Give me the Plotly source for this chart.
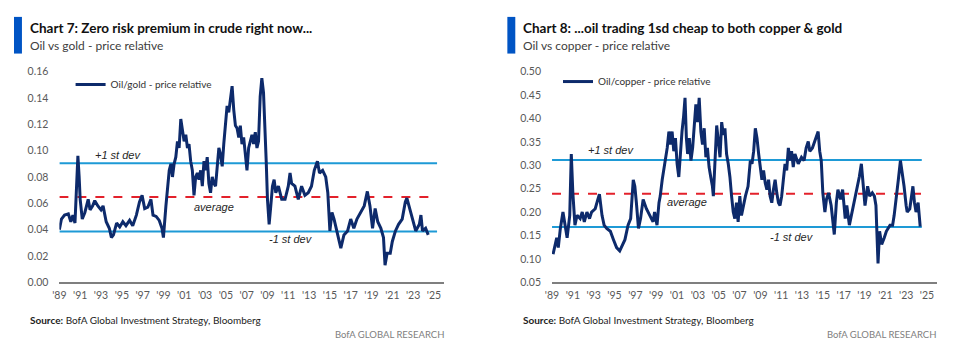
import plotly.graph_objects as go

# page body has an 8px margin: size the figure so the page is exactly 968x359
OFF = 8
W, H = 968 - 2 * OFF, 359 - 2 * OFF


def fx(px):
    return (px - OFF) / W


def fy(py):
    return 1 - (py - OFF) / H


# ---------------- data ----------------
gold_years = [1989.0, 1989.2, 1989.5, 1989.86, 1990.1, 1990.3, 1990.5, 1990.65, 1990.78, 1990.9,
              1991.0, 1991.2, 1991.45, 1991.77, 1991.95, 1992.2, 1992.4, 1992.7, 1993.0, 1993.2,
              1993.5, 1993.8, 1994.0, 1994.2, 1994.5, 1994.8, 1995.1, 1995.4, 1995.75, 1996.05,
              1996.4, 1996.7, 1996.95, 1997.2, 1997.5, 1997.8, 1998.0, 1998.3, 1998.6, 1998.86,
              1999.0, 1999.24, 1999.56, 1999.72, 1999.87, 2000.03, 2000.19, 2000.35, 2000.51, 2000.67,
              2000.83, 2000.99, 2001.15, 2001.31, 2001.46, 2001.62, 2001.78, 2001.94, 2002.10, 2002.26,
              2002.42, 2002.58, 2002.74, 2002.90, 2003.05, 2003.21, 2003.37, 2003.53, 2003.69, 2003.85,
              2004.01, 2004.17, 2004.33, 2004.49, 2004.65, 2004.80, 2004.96, 2005.12, 2005.28, 2005.44,
              2005.60, 2005.76, 2005.92, 2006.08, 2006.24, 2006.39, 2006.55, 2006.71, 2006.87, 2007.03,
              2007.19, 2007.35, 2007.51, 2007.67, 2007.83, 2007.99, 2008.14, 2008.30, 2008.46, 2008.62,
              2008.78, 2008.88, 2009.0, 2009.16, 2009.32, 2009.48, 2009.64, 2009.80, 2010.05, 2010.37,
              2010.69, 2011.0, 2011.17, 2011.32, 2011.64, 2011.96, 2012.28, 2012.6, 2012.92, 2013.23,
              2013.5, 2013.8, 2014.0, 2014.3, 2014.6, 2014.8, 2015.0, 2015.2, 2015.4, 2015.6,
              2015.9, 2016.05, 2016.35, 2016.7, 2017.0, 2017.3, 2017.6, 2017.95, 2018.3, 2018.6,
              2018.85, 2019.1, 2019.35, 2019.6, 2019.9, 2020.15, 2020.3, 2020.5, 2020.8, 2021.0,
              2021.3, 2021.6, 2021.95, 2022.25, 2022.4, 2022.6, 2022.95, 2023.25, 2023.6, 2023.75,
              2023.9, 2024.2, 2024.45]
gold_ratio = [0.040, 0.048, 0.051, 0.052, 0.046, 0.051, 0.045, 0.073, 0.096, 0.080,
              0.063, 0.048, 0.053, 0.063, 0.055, 0.058, 0.062, 0.058, 0.055, 0.058,
              0.046, 0.041, 0.034, 0.036, 0.045, 0.042, 0.046, 0.043, 0.047, 0.043,
              0.051, 0.061, 0.066, 0.056, 0.057, 0.063, 0.051, 0.050, 0.047, 0.041,
              0.034, 0.058, 0.085, 0.090, 0.080, 0.090, 0.095, 0.107, 0.102, 0.124,
              0.117, 0.107, 0.112, 0.102, 0.105, 0.092, 0.085, 0.066, 0.080, 0.083,
              0.078, 0.085, 0.073, 0.092, 0.085, 0.095, 0.075, 0.068, 0.080, 0.075,
              0.073, 0.085, 0.102, 0.097, 0.088, 0.105, 0.119, 0.134, 0.129, 0.139,
              0.149, 0.131, 0.119, 0.117, 0.110, 0.119, 0.105, 0.110, 0.097, 0.085,
              0.102, 0.107, 0.112, 0.105, 0.114, 0.102, 0.107, 0.141, 0.155, 0.144,
              0.117, 0.092, 0.063, 0.044, 0.058, 0.073, 0.078, 0.068, 0.073, 0.063,
              0.063, 0.073, 0.083, 0.075, 0.073, 0.063, 0.073, 0.066, 0.068, 0.073,
              0.085, 0.092, 0.083, 0.085, 0.080, 0.068, 0.039, 0.053, 0.048, 0.041,
              0.031, 0.026, 0.036, 0.039, 0.048, 0.041, 0.048, 0.053, 0.058, 0.069,
              0.058, 0.041, 0.056, 0.046, 0.041, 0.034, 0.013, 0.022, 0.022, 0.031,
              0.039, 0.044, 0.048, 0.061, 0.064, 0.058, 0.048, 0.039, 0.044, 0.051,
              0.039, 0.041, 0.036]
gold_bands = {"plus": 0.0904, "avg": 0.0647, "minus": 0.0386}
gold_band_span = [1989.0, 2025.3]

copper_years = [1989.1, 1989.3, 1989.45, 1989.6, 1989.8, 1990.05, 1990.25, 1990.45, 1990.7, 1990.85,
                1991.0, 1991.2, 1991.4, 1991.7, 1991.9, 1992.1, 1992.35, 1992.6, 1992.8, 1993.15,
                1993.4, 1993.55, 1993.8, 1994.0, 1994.25, 1994.6, 1994.9, 1995.2, 1995.5, 1995.75,
                1996.0, 1996.3, 1996.55, 1996.8, 1996.95, 1997.1, 1997.3, 1997.5, 1997.75, 1998.06,
                1998.38, 1998.70, 1998.85, 1999.08, 1999.27, 1999.39, 1999.58, 1999.74, 1999.90, 2000.06,
                2000.22, 2000.37, 2000.53, 2000.69, 2000.85, 2001.01, 2001.17, 2001.33, 2001.48, 2001.64,
                2001.77, 2001.90, 2002.02, 2002.18, 2002.34, 2002.50, 2002.66, 2002.81, 2002.97, 2003.13,
                2003.29, 2003.45, 2003.61, 2003.77, 2003.92, 2004.08, 2004.24, 2004.40, 2004.49, 2004.65,
                2004.81, 2004.97, 2005.13, 2005.29, 2005.45, 2005.60, 2005.76, 2005.92, 2006.08, 2006.24,
                2006.40, 2006.55, 2006.71, 2006.87, 2007.03, 2007.19, 2007.35, 2007.57, 2007.82, 2008.04,
                2008.20, 2008.36, 2008.52, 2008.68, 2008.84, 2008.99, 2009.15, 2009.31, 2009.47, 2009.63,
                2009.79, 2009.94, 2010.10, 2010.26, 2010.42, 2010.58, 2010.74, 2010.89, 2011.05, 2011.21,
                2011.37, 2011.53, 2011.69, 2011.85, 2012.00, 2012.16, 2012.32, 2012.64, 2012.95, 2013.2,
                2013.4, 2013.6, 2013.75, 2014.0, 2014.15, 2014.4, 2014.55, 2014.7, 2014.85, 2015.0,
                2015.2, 2015.35, 2015.55, 2015.8, 2016.1, 2016.3, 2016.45, 2016.7, 2016.9, 2017.15,
                2017.3, 2017.55, 2017.75, 2018.0, 2018.25, 2018.5, 2018.7, 2018.9, 2019.05, 2019.3,
                2019.5, 2019.75, 2019.95, 2020.1, 2020.2, 2020.3, 2020.45, 2020.65, 2020.9, 2021.1,
                2021.45, 2021.7, 2021.85, 2022.05, 2022.25, 2022.45, 2022.65, 2022.8, 2023.0, 2023.1,
                2023.35, 2023.5, 2023.65, 2023.8, 2023.95, 2024.15, 2024.25, 2024.35]
copper_ratio = [0.110, 0.131, 0.145, 0.124, 0.165, 0.200, 0.172, 0.145, 0.193, 0.324,
                0.241, 0.172, 0.193, 0.186, 0.200, 0.179, 0.200, 0.186, 0.200, 0.207,
                0.227, 0.238, 0.193, 0.172, 0.165, 0.159, 0.141, 0.124, 0.117, 0.131,
                0.141, 0.172, 0.186, 0.269, 0.255, 0.220, 0.165, 0.186, 0.227, 0.207,
                0.193, 0.179, 0.200, 0.172, 0.220, 0.234, 0.269, 0.289, 0.317, 0.337,
                0.372, 0.344, 0.372, 0.330, 0.358, 0.303, 0.275, 0.337, 0.372, 0.406,
                0.444, 0.358, 0.324, 0.358, 0.310, 0.337, 0.379, 0.430, 0.392, 0.444,
                0.372, 0.344, 0.379, 0.317, 0.337, 0.296, 0.275, 0.255, 0.234, 0.310,
                0.385, 0.351, 0.317, 0.392, 0.365, 0.379, 0.324, 0.303, 0.275, 0.234,
                0.200, 0.186, 0.220, 0.179, 0.234, 0.193, 0.214, 0.234, 0.255, 0.310,
                0.303, 0.330, 0.379, 0.358, 0.324, 0.296, 0.269, 0.289, 0.262, 0.248,
                0.269, 0.234, 0.220, 0.248, 0.269, 0.241, 0.220, 0.214, 0.234, 0.269,
                0.303, 0.289, 0.337, 0.310, 0.330, 0.296, 0.324, 0.303, 0.317, 0.310,
                0.337, 0.351, 0.330, 0.337, 0.348, 0.365, 0.372, 0.330, 0.310, 0.241,
                0.200, 0.227, 0.241, 0.214, 0.152, 0.220, 0.248, 0.227, 0.248, 0.186,
                0.214, 0.172, 0.193, 0.220, 0.248, 0.275, 0.303, 0.241, 0.214, 0.255,
                0.234, 0.241, 0.234, 0.214, 0.159, 0.090, 0.159, 0.131, 0.145, 0.159,
                0.172, 0.172, 0.193, 0.227, 0.269, 0.310, 0.282, 0.255, 0.214, 0.200,
                0.207, 0.227, 0.255, 0.220, 0.200, 0.220, 0.193, 0.169]
copper_bands = {"plus": 0.311, "avg": 0.239, "minus": 0.168}
copper_band_span = [1989.0, 2024.5]

tick_years = list(range(1989, 2026, 2))
tick_labels = ["'" + str(y)[2:] for y in tick_years]

gold_yticks = [0.00, 0.02, 0.04, 0.06, 0.08, 0.10, 0.12, 0.14, 0.16]
copper_yticks = [0.05, 0.10, 0.15, 0.20, 0.25, 0.30, 0.35, 0.40, 0.45, 0.50]

# ---------------- style ----------------
NAVY = "#0d2a6b"
LBLUE = "#1e9ad6"
RED = "#e3212b"
GREY = "#595959"
TXT = "Lato, Liberation Sans, Arial, sans-serif"
SANS = "Liberation Sans, Arial, sans-serif"

fig = go.Figure()


def add_panel(xs, ys, bands, span, name, xa, ya, legend):
    for key, col, dash in [("plus", LBLUE, "solid"), ("avg", RED, "dash"), ("minus", LBLUE, "solid")]:
        fig.add_trace(go.Scatter(x=span, y=[bands[key], bands[key]], mode="lines",
                                 line=dict(color=col, width=2, dash=dash),
                                 xaxis=xa, yaxis=ya, showlegend=False, hoverinfo="skip"))
    fig.add_trace(go.Scatter(x=xs, y=ys, mode="lines", name=name,
                             line=dict(color=NAVY, width=3), xaxis=xa, yaxis=ya,
                             legend=legend))


add_panel(gold_years, gold_ratio, gold_bands, gold_band_span,
          "Oil/gold - price relative", "x", "y", "legend")
add_panel(copper_years, copper_ratio, copper_bands, copper_band_span,
          "Oil/copper - price relative", "x2", "y2", "legend2")

ydom = [fy(286), fy(67.7)]
xcommon = dict(range=[1989, 2025.95], tickvals=tick_years, ticktext=tick_labels,
               showgrid=False, zeroline=False, showline=True, linecolor="#7f7f7f",
               linewidth=1.5, ticks="", ticklabelstandoff=2,
               tickfont=dict(family=TXT, size=10.5, color=GREY))
ycommon = dict(showgrid=False, zeroline=False, showline=False, ticks="",
               ticklabelstandoff=10, tickfont=dict(family=TXT, size=10.5, color=GREY))

fig.update_layout(
    width=W, height=H, margin=dict(l=0, r=0, t=0, b=0),
    paper_bgcolor="white", plot_bgcolor="white",
    xaxis=dict(domain=[fx(52.7), fx(440)], anchor="y", **xcommon),
    yaxis=dict(domain=ydom, anchor="x", range=[0, 0.16], tickvals=gold_yticks,
               tickformat=".2f", **ycommon),
    xaxis2=dict(domain=[fx(549), fx(936.7)], anchor="y2", **xcommon),
    yaxis2=dict(domain=ydom, anchor="x2", range=[0.05, 0.50], tickvals=copper_yticks,
                tickformat=".2f", **ycommon),
    legend=dict(x=fx(64), y=fy(81), xanchor="left", yanchor="middle",
                bgcolor="rgba(0,0,0,0)", font=dict(family=TXT, size=10, color="#333333"),
                itemwidth=30),
    legend2=dict(x=fx(555), y=fy(78), xanchor="left", yanchor="middle",
                 bgcolor="rgba(0,0,0,0)", font=dict(family=TXT, size=10, color="#333333"),
                 itemwidth=30),
    showlegend=True,
)

# band labels
band_notes = [
    ("x", "y", 1994.66, 0.0966, "+1 st dev"),
    ("x", "y", 2003.82, 0.0574, "average"),
    ("x", "y", 2011.23, 0.0330, "-1 st dev"),
    ("x2", "y2", 1994.7, 0.332, "+1 st dev"),
    ("x2", "y2", 2001.93, 0.2205, "average"),
    ("x2", "y2", 2012.07, 0.146, "-1 st dev"),
]
for xa, ya, xv, yv, t in band_notes:
    fig.add_annotation(x=xv, y=yv, xref=xa, yref=ya, text="<i>" + t + "</i>", showarrow=False,
                       font=dict(family=SANS, size=11, color="#262626"))

# titles, subtitles, footers
panels = [
    (7, 23, 440, "Chart 7: Zero risk premium in crude right now...", "Oil vs gold - price relative"),
    (504, 520, 936, "Chart 8: ...oil trading 1sd cheap to both copper & gold", "Oil vs copper - price relative"),
]
for bar_x, tx, rx, title, sub in panels:
    fig.add_shape(type="rect", xref="paper", yref="paper",
                  x0=fx(bar_x), x1=fx(bar_x + 8), y0=fy(49), y1=fy(11),
                  fillcolor="#0054c4", line=dict(width=0))
    fig.add_annotation(x=fx(tx - 2), y=fy(23), xref="paper", yref="paper", xanchor="left",
                       yanchor="middle", showarrow=False, text="<b>" + title + "</b>",
                       font=dict(family=TXT, size=13.5, color="#111111"))
    fig.add_annotation(x=fx(tx - 2), y=fy(41), xref="paper", yref="paper", xanchor="left",
                       yanchor="middle", showarrow=False, text=sub,
                       font=dict(family=TXT, size=12, color="#404040"))
    fig.add_annotation(x=fx(tx - 2), y=fy(325), xref="paper", yref="paper", xanchor="left",
                       yanchor="middle", showarrow=False,
                       text="<b>Source:</b> BofA Global Investment Strategy, Bloomberg",
                       font=dict(family=TXT, size=10, color="#222222"))
    fig.add_annotation(x=fx(rx + 2), y=fy(340), xref="paper", yref="paper", xanchor="right",
                       yanchor="middle", showarrow=False, text="BofA GLOBAL RESEARCH",
                       font=dict(family=TXT, size=9.5, color="#808080"))

fig.write_html("out.html")
